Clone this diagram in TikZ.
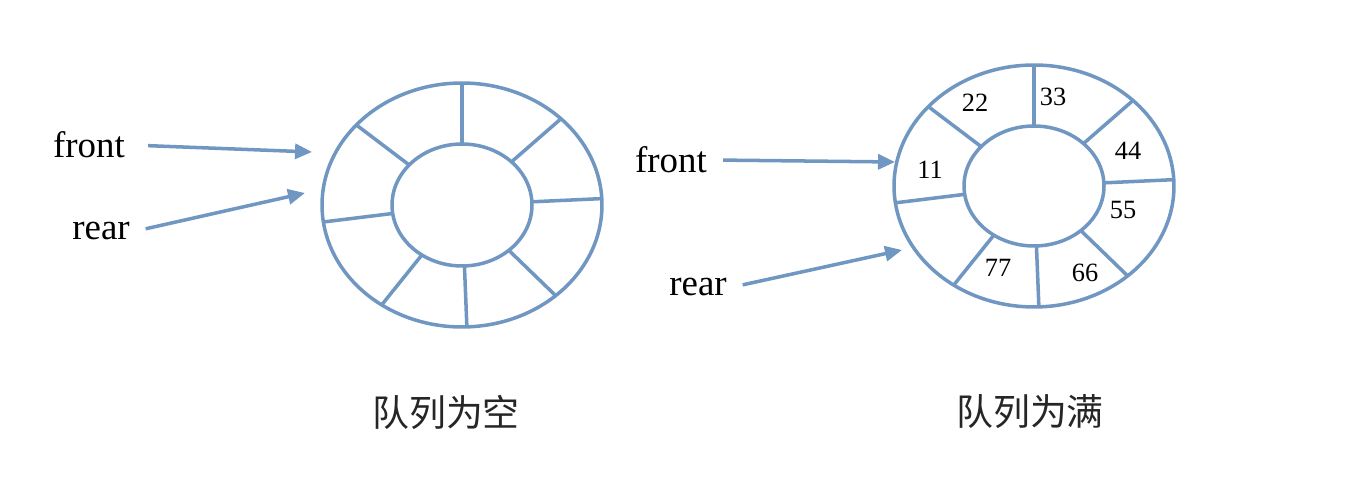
\documentclass[tikz,border=0pt]{standalone}
\usepackage{fontspec}
\setmainfont{Liberation Serif}
\newfontfamily\cjk{Noto Sans CJK SC}
\usetikzlibrary{arrows.meta,calc}
\definecolor{ringblue}{RGB}{112,150,194}

\begin{document}
\begin{tikzpicture}[x=0.02cm,y=0.02cm,
		ring/.style={draw=ringblue,line width=2pt},
		pointer/.style={draw=ringblue,line width=2pt,shorten <=0.2cm,-{Triangle[length=0.34cm,width=0.3cm]}},
		name label/.style={font=\fontsize{21}{25}\selectfont},
		cell label/.style={font=\fontsize{15}{18}\selectfont},
		caption/.style={text=black!85,font=\cjk\fontsize{21}{25}\selectfont}]

		\useasboundingbox (0,0) rectangle (1365,483);

		% empty queue
		\coordinate (c1) at (462,278);
		\draw[ring] (c1) ellipse [x radius=2.8cm, y radius=2.44cm];
		\draw[ring] (c1) ellipse [x radius=1.4cm, y radius=1.22cm];
		\foreach \a in {90,45,3,-48,-88,-125,188,139}
			\draw[ring] ($(c1)+(\a:1.4cm and 1.22cm)$) -- ($(c1)+(\a:2.8cm and 2.44cm)$);

		\node[name label] (front1) at (89,338) {front};
		\node[name label] (rear1) at (101,252) {rear};
		\coordinate (f1end) at (312,331);
		\coordinate (r1end) at (305,290);
		\node[caption] (empty) at (446,71) {队列为空};

		% full queue
		\coordinate (c2) at (1034,297);
		\draw[ring] (c2) ellipse [x radius=2.8cm, y radius=2.42cm];
		\draw[ring] (c2) ellipse [x radius=1.4cm, y radius=1.2cm];
		\foreach \a in {90,45,3,-48,-88,-125,188,139}
			\draw[ring] ($(c2)+(\a:1.4cm and 1.2cm)$) -- ($(c2)+(\a:2.8cm and 2.42cm)$);

		\node[cell label] (n11) at (930,313) {11};
		\node[cell label] (n22) at (975,380) {22};
		\node[cell label] (n33) at (1053,386) {33};
		\node[cell label] (n44) at (1128,332) {44};
		\node[cell label] (n55) at (1123,273) {55};
		\node[cell label] (n66) at (1085,210) {66};
		\node[cell label] (n77) at (998,215) {77};

		\node[name label] (front2) at (671,323) {front};
		\node[name label] (rear2) at (698,196) {rear};
		\coordinate (f2end) at (895,321);
		\coordinate (r2end) at (902,233);
		\node[caption] (full) at (1030,71) {队列为满};

		\draw[pointer,shorten <=0.34cm] (front1.east) -- (f1end);
		\draw[pointer] (rear1.east) -- (r1end);
		\draw[pointer] (front2.east) -- (f2end);
		\draw[pointer] (rear2.east) -- (r2end);
\end{tikzpicture}
\end{document}
